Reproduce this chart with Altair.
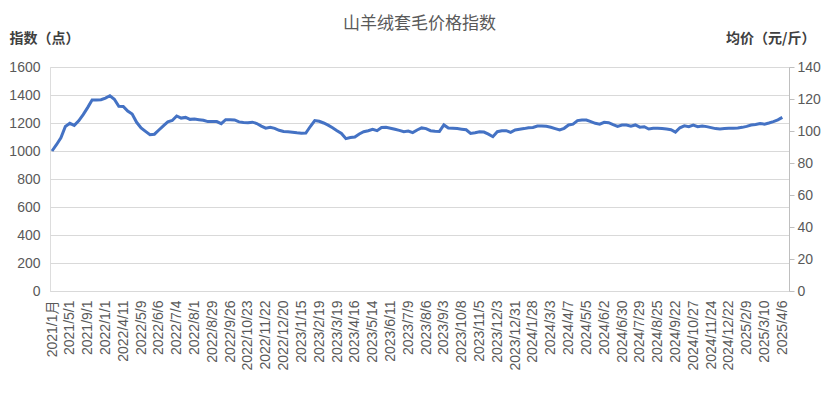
import altair as alt
import pandas as pd

# 山羊绒套毛价格指数 — weekly index values (points)
index_values = [
    1000, 1045, 1095, 1175, 1198, 1183, 1215, 1260, 1310, 1364,
    1364, 1366, 1378, 1395, 1370, 1320, 1318, 1285, 1264, 1205,
    1165, 1140, 1116, 1120, 1150, 1180, 1208, 1218, 1250, 1235,
    1240, 1226, 1228, 1224, 1220, 1210, 1210, 1210, 1195, 1224,
    1224, 1222, 1208, 1203, 1202, 1206, 1196, 1178, 1163, 1169,
    1162, 1148, 1140, 1137, 1134, 1130, 1127, 1128, 1175, 1217,
    1212, 1200, 1185, 1166, 1145, 1125, 1088, 1096, 1100, 1122,
    1138, 1145, 1155, 1145, 1168, 1169, 1163, 1155, 1147, 1138,
    1143, 1131, 1150, 1165, 1160, 1145, 1141, 1140, 1186, 1164,
    1162, 1160, 1156, 1152, 1126, 1131, 1137, 1135, 1120, 1102,
    1138, 1145, 1145, 1133, 1150, 1155, 1160, 1166, 1168, 1178,
    1179, 1176, 1170, 1160, 1150, 1162, 1186, 1192, 1217, 1221,
    1221, 1210, 1198, 1192, 1205, 1202, 1188, 1176, 1186, 1185,
    1177, 1186, 1170, 1173, 1157, 1162, 1162, 1161, 1157, 1152,
    1135, 1166, 1180, 1174, 1185, 1174, 1179, 1174, 1167, 1160,
    1157, 1160, 1162, 1162, 1164, 1169, 1176, 1186, 1190, 1197,
    1192, 1200, 1210, 1222, 1240,
]

# category labels shown on the x axis (every 4th point)
tick_labels = [
    "2021/1月", "2021/5/1", "2021/9/1", "2022/1/1", "2022/4/11", "2022/5/9",
    "2022/6/6", "2022/7/4", "2022/8/1", "2022/8/29", "2022/9/26", "2022/10/23",
    "2022/11/22", "2022/12/20", "2023/1/15", "2023/2/19", "2023/3/19", "2023/4/16",
    "2023/5/14", "2023/6/11", "2023/7/9", "2023/8/6", "2023/9/3", "2023/10/8",
    "2023/11/5", "2023/12/3", "2023/12/31", "2024/1/28", "2024/3/3", "2024/4/7",
    "2024/5/5", "2024/6/2", "2024/6/30", "2024/7/29", "2024/8/25", "2024/9/22",
    "2024/10/27", "2024/11/24", "2024/12/22", "2025/2/9", "2025/3/10", "2025/4/6",
]
label_step = 4

left_ticks = list(range(0, 1601, 200))
right_ticks = list(range(0, 141, 20))

df = pd.DataFrame({"idx": list(range(len(index_values))), "index": index_values})

label_js = "[" + ",".join("'" + s + "'" for s in tick_labels) + "]"

NUM = "Liberation Sans, Noto Sans CJK SC"
CJK = "Noto Sans CJK SC"
GRAY = "#595959"
GRID = "#d9d9d9"

x_enc = alt.X(
    "idx:Q",
    scale=alt.Scale(domain=[-0.45, len(index_values) + 0.5], nice=False, zero=False),
    axis=alt.Axis(
        values=list(range(0, len(index_values), label_step)),
        labelExpr=label_js + "[round(datum.value/" + str(label_step) + ")]",
        labelAngle=-90, labelAlign="right", labelBaseline="middle",
        labelPadding=9, labelOverlap=False, labelSeparation=0, labelBound=False,
        labelFont=NUM, labelFontSize=14,
        labelColor=GRAY, grid=False, ticks=False, domainColor=GRID, title=None,
    ),
)

line = alt.Chart(df).mark_line(color="#4472C4", strokeWidth=3).encode(
    x=x_enc,
    y=alt.Y(
        "index:Q",
        scale=alt.Scale(domain=[0, 1600], nice=False),
        axis=alt.Axis(
            values=left_ticks, format="d", grid=True, gridColor=GRID, domain=False,
            ticks=False, labelPadding=10, labelFont=NUM, labelFontSize=14,
            labelColor=GRAY,
            title="指数（点）", titleAngle=0, titleAlign="left", titleBaseline="middle",
            titleX=-41, titleY=-29, titleFont=CJK, titleFontSize=14,
            titleFontWeight="bold", titleColor="#404040",
        ),
    ),
)

right = alt.Chart(df).mark_point(opacity=0).encode(
    x=x_enc,
    y=alt.YDatum(
        0,
        scale=alt.Scale(domain=[0, 140], nice=False),
        axis=alt.Axis(
            orient="right", values=right_ticks, format="d", grid=False, domain=True,
            domainColor="#bfbfbf", ticks=True, tickColor="#bfbfbf", tickSize=5,
            labelPadding=3, labelFont=NUM, labelFontSize=14, labelColor=GRAY,
            title="均价（元/斤）", titleAngle=0, titleAlign="right",
            titleBaseline="middle", titleX=26, titleY=-29, titleFont=CJK,
            titleFontSize=14, titleFontWeight="bold", titleColor="#404040",
        ),
    ),
)

chart = (
    alt.layer(line, right)
    .resolve_scale(y="independent")
    .properties(
        width=739, height=224,
        padding={"left": 42, "top": 59, "right": 33, "bottom": 94},
        autosize="none",
        title=alt.TitleParams(
            "山羊绒套毛价格指数", anchor="middle", font=CJK, fontSize=17,
            fontWeight="normal", color=GRAY, offset=1, dy=3,
        ),
    )
    .configure_view(stroke=None)
    .configure(background="white")
)

chart.save("out.html", embed_options={"renderer": "svg", "actions": False})
